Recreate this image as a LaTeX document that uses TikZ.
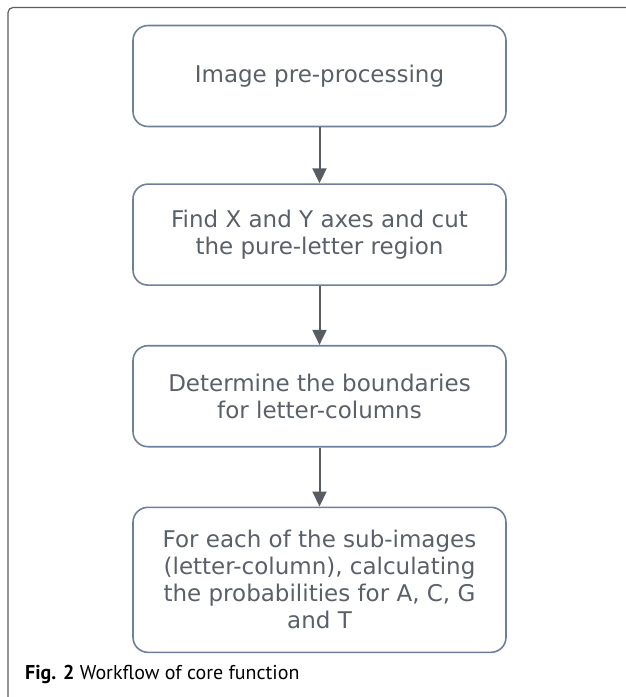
\documentclass[tikz,border=0pt]{standalone}
\usepackage{fontspec}
\setmainfont{DejaVu Sans}
\newfontfamily\captionfont{PT Sans}
\usetikzlibrary{positioning,arrows.meta}

\definecolor{marco}{HTML}{5C5C5C}
\definecolor{borde}{HTML}{6F7F9B}
\definecolor{texto}{HTML}{5A6069}
\definecolor{flecha}{HTML}{585D64}

\begin{document}
\begin{tikzpicture}[
    x=1pt, y=1pt,
    >={Triangle[length=15pt,width=14pt]},
    paso/.style={draw=borde, line width=1.6pt, rounded corners=15pt,
      minimum width=373pt, minimum height=101pt, inner sep=0pt,
      align=center, text=texto, font=\fontsize{23}{27}\selectfont},
    flujo/.style={->, draw=flecha, fill=flecha, line width=2pt},
    marco/.style={draw=marco, line width=1.2pt, rounded corners=5pt}
  ]

    % --- Lienzo ---
    \useasboundingbox (0,0) rectangle (626,-697);

    % Marco exterior (solo borde superior e izquierdo)
    \draw[marco] (630,-7.5) -- (8,-7.5) -- (8,-700);

    % --- Pasos del flujo ---
    \node[paso] (preproceso) at (319.5,-76) {Image pre-processing};
    \node[paso, below=56pt of preproceso] (ejes)
      {Find X and Y axes and cut\\the pure-letter region};
    \node[paso, below=59pt of ejes] (limites)
      {Determine the boundaries\\for letter-columns};
    \node[paso, below=59pt of limites, minimum height=145pt] (probabilidades)
      {For each of the sub-images\\(letter-column), calculating\\the probabilities for A, C, G\\and T};

    % Flechas entre pasos
    \draw[flujo] (preproceso) -- (ejes);
    \draw[flujo] (ejes) -- (limites);
    \draw[flujo] (limites) -- (probabilidades);

    % --- Pie de figura ---
    \node[anchor=base west, inner sep=0pt, font=\captionfont\fontsize{20}{24}\selectfont] (pie)
      at (25,-679) {\textbf{Fig. 2} Workflow of core function};

  \end{tikzpicture}
\end{document}
